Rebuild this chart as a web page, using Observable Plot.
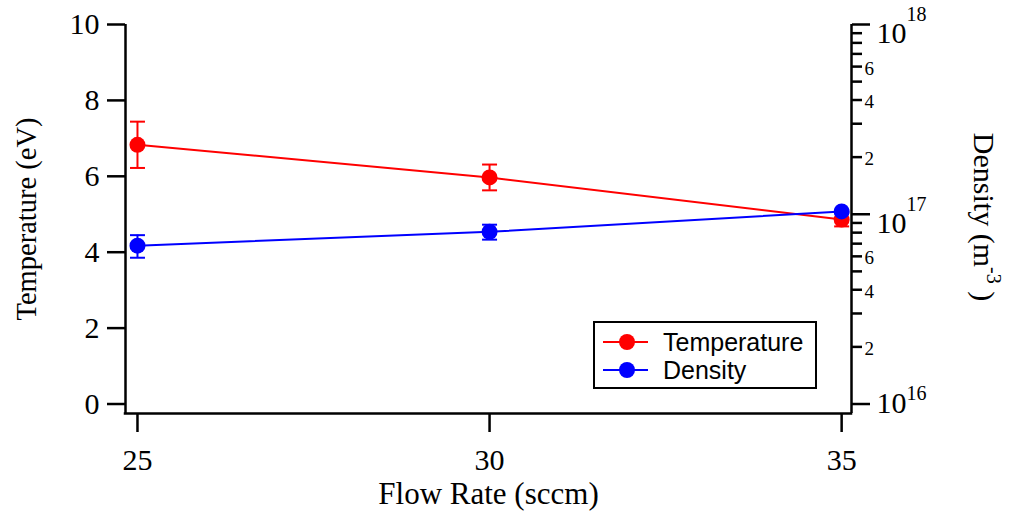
<!DOCTYPE html>
<html><head><meta charset="utf-8">
<script src="https://cdn.jsdelivr.net/npm/d3@7"></script>
<script src="https://cdn.jsdelivr.net/npm/@observablehq/plot@0.6"></script>
<style>
html,body{margin:0;padding:0;background:#fff;}
#wrap{position:relative;width:1011px;height:521px;}
#legend{position:absolute;left:593px;top:321px;width:220px;height:64px;border:2px solid #000;background:#fff;}
#legend svg{display:block;}
</style></head><body><div id="wrap"></div>
<script>
// ---- data ----
const flow = [25, 30, 35];
const temperature = [6.83, 5.97, 4.86];
const temperatureErr = [0.61, 0.34, 0.18];
const density = [6.83e16, 8.08e16, 1.035e17];
const densityErr = [0.93e16, 0.73e16, 0.2e16];

const flowTicks = [25, 30, 35];
const tempTicks = [0, 2, 4, 6, 8, 10];
const densMajor = [1e16, 1e17, 1e18];
const densMajorExp = ["16", "17", "18"];
const densMinor = [2e16, 3e16, 4e16, 5e16, 6e16, 7e16, 8e16, 9e16,
                   2e17, 3e17, 4e17, 5e17, 6e17, 7e17, 8e17, 9e17];
const densMinorLabeled = [2e16, 4e16, 6e16, 2e17, 4e17, 6e17];
const densMinorLabels = ["2", "4", "6", "2", "4", "6"];

const seriesNames = ["Temperature", "Density"];
const seriesColors = ["#ff0000", "#0000ff"];

// ---- scales ----
const xDomain = [24.83, 35.14];
const yDomain = [-0.25, 10];
const densBase = 1e16;              // right axis: 1e16..1e18 maps onto 0..10
const unitsPerDecade = 5;
const toEq = d => unitsPerDecade * Math.log10(d / densBase);

const tempData = flow.map((x, i) => ({x, v: temperature[i], lo: temperature[i] - temperatureErr[i], hi: temperature[i] + temperatureErr[i]}));
const densData = flow.map((x, i) => ({x, v: toEq(density[i]), lo: toEq(density[i] - densityErr[i]), hi: toEq(density[i] + densityErr[i])}));

const hbar = {draw(ctx, size) { const r = Math.sqrt(size / Math.PI); ctx.moveTo(-r, 0); ctx.lineTo(r, 0); }};

function series(data, color) {
  return [
    Plot.ruleX(data, {x: "x", y1: "lo", y2: "hi", stroke: color, strokeWidth: 2}),
    Plot.dot(data, {x: "x", y: "hi", symbol: hbar, r: 7.5, fill: "none", stroke: color, strokeWidth: 2}),
    Plot.dot(data, {x: "x", y: "lo", symbol: hbar, r: 7.5, fill: "none", stroke: color, strokeWidth: 2}),
    Plot.line(data, {x: "x", y: "v", stroke: color, strokeWidth: 2}),
    Plot.dot(data, {x: "x", y: "v", r: 8, fill: color, stroke: "none"})
  ];
}

const serif = "'Liberation Serif', 'Times New Roman', serif";

const svg = Plot.plot({
  width: 1011, height: 521,
  marginLeft: 125, marginRight: 160, marginTop: 24, marginBottom: 108,
  x: {domain: xDomain, label: null},
  y: {domain: yDomain, label: null},
  style: {fontFamily: serif, color: "#000", background: "#fff", overflow: "visible"},
  marks: [
    Plot.ruleX(xDomain, {stroke: "#000", strokeWidth: 2.5}),
    Plot.ruleY([yDomain[0]], {stroke: "#000", strokeWidth: 2.5, strokeLinecap: "square"}),
    Plot.axisX({ticks: flowTicks, tickSize: 19, tickPadding: 16, fontSize: 30, fontFamily: serif, fontVariant: "normal", strokeWidth: 2.5, label: null}),
    Plot.axisY({anchor: "left", ticks: tempTicks, tickSize: 18, tickPadding: 8, fontSize: 30, fontFamily: serif, fontVariant: "normal", strokeWidth: 2.5, label: null}),
    Plot.axisY({anchor: "right", ticks: densMinor.map(toEq), tickSize: 10, tickFormat: () => "", strokeWidth: 2.5, label: null}),
    Plot.axisY({anchor: "right", ticks: densMajor.map(toEq), tickSize: 18, tickFormat: () => "", strokeWidth: 2.5, label: null}),
    Plot.text(densMinorLabeled, {y: toEq, text: (d, i) => densMinorLabels[i], frameAnchor: "right", dx: 13, dy: 2, textAnchor: "start", fontSize: 19, fontFamily: serif}),
    Plot.text(densMajor.slice(0, 1), {y: toEq, text: () => "10", frameAnchor: "right", dx: 25, dy: -1, textAnchor: "start", fontSize: 30, fontFamily: serif}),
    Plot.text(densMajor.slice(1), {y: toEq, text: () => "10", frameAnchor: "right", dx: 25, dy: 9, textAnchor: "start", fontSize: 30, fontFamily: serif}),
    Plot.text(densMajor, {y: toEq, text: (d, i) => densMajorExp[i], frameAnchor: "right", dx: 55, dy: -10, textAnchor: "start", fontSize: 20, fontFamily: serif}),
    Plot.text(["Flow Rate (sccm)"], {text: d => d, frameAnchor: "bottom", dy: 90, lineAnchor: "bottom", textAnchor: "middle", fontSize: 31, fontFamily: serif}),
    Plot.text(["Temperature (eV)"], {text: d => d, frameAnchor: "left", dx: -90, dy: 0, rotate: -90, lineAnchor: "bottom", textAnchor: "middle", fontSize: 28.5, fontFamily: serif}),
    Plot.text(["Density (m"], {text: d => d, frameAnchor: "right", dx: 122, dy: -2, rotate: 90, lineAnchor: "bottom", textAnchor: "middle", fontSize: 30, fontFamily: serif}),
    ...series(tempData, seriesColors[0]),
    ...series(densData, seriesColors[1])
  ]
});

d3.select(svg).selectAll("text").filter(function () { return this.textContent === "Density (m"; })
  .each(function () {
    const t = d3.select(this);
    t.append("tspan").attr("font-size", 20).attr("dy", -13).text("-3");
    t.append("tspan").attr("dy", 13).text(" )");
  });

const wrap = document.getElementById("wrap");
wrap.appendChild(svg);

// legend
const legend = d3.select(wrap).append("div").attr("id", "legend");
const lsvg = legend.append("svg").attr("width", 220).attr("height", 64);
const rows = lsvg.selectAll("g").data(seriesNames).join("g")
  .attr("transform", (d, i) => `translate(0,${19 + i * 28})`);
rows.append("line").attr("x1", 8).attr("x2", 53).attr("y1", 0).attr("y2", 0)
  .attr("stroke", (d, i) => seriesColors[i]).attr("stroke-width", 2);
rows.append("circle").attr("cx", 32).attr("cy", 0).attr("r", 8).attr("fill", (d, i) => seriesColors[i]);
rows.append("text").attr("x", 68).attr("y", 0).attr("dy", "0.36em")
  .attr("font-family", "'Liberation Sans', Arial, sans-serif").attr("font-size", 25)
  .attr("fill", "#000").text(d => d);
</script>
</body></html>
